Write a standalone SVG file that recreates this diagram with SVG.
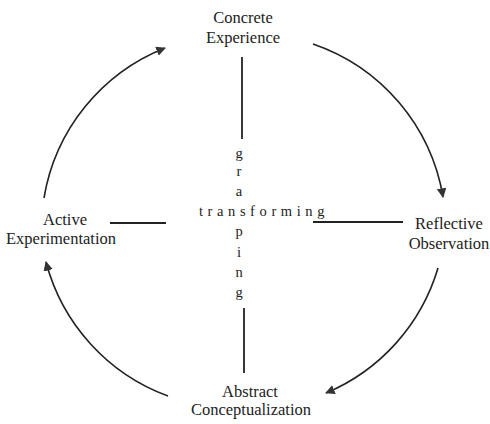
<svg xmlns="http://www.w3.org/2000/svg" width="490" height="424" viewBox="0 0 490 424">
<defs>
<style>
.lbl{font-family:"Liberation Serif","Times New Roman",serif;font-size:16.5px;fill:#222;text-anchor:middle}
.ax{font-family:"Liberation Serif","Times New Roman",serif;font-size:14.5px;fill:#222;text-anchor:middle}
.arc{fill:none;stroke:#222;stroke-width:1.6}
.bar{stroke:#222;stroke-width:1.8}
</style>
<marker id="ah" viewBox="0 0 10 10" refX="9" refY="5" markerWidth="6" markerHeight="6" orient="auto" markerUnits="strokeWidth">
<path d="M0,0 L10,5 L0,10 z" fill="#333"/>
</marker>
</defs>
<rect width="490" height="424" fill="#fff"/>
<g id="connectors">
<path class="arc" d="M313,44 A196,196 0 0 1 443,197" marker-end="url(#ah)"/>
<path class="arc" d="M438,268 A196,196 0 0 1 326,393" marker-end="url(#ah)"/>
<path class="arc" d="M168,396 A196,196 0 0 1 46,262" marker-end="url(#ah)"/>
<path class="arc" d="M44,198 A196,196 0 0 1 165,48" marker-end="url(#ah)"/>
<line class="bar" x1="242" y1="57" x2="242" y2="139"/>
<line class="bar" x1="244" y1="308" x2="244" y2="373"/>
<line class="bar" x1="110" y1="223" x2="166" y2="223"/>
<line class="bar" x1="313" y1="222" x2="403" y2="222"/>
</g>
<g id="concrete-experience">
<text class="lbl" x="243" y="23">Concrete</text>
<text class="lbl" x="243" y="43">Experience</text>
</g>
<g id="reflective-observation">
<text class="lbl" x="449" y="229">Reflective</text>
<text class="lbl" x="449" y="249">Observation</text>
</g>
<g id="abstract-conceptualization">
<text class="lbl" x="250" y="397">Abstract</text>
<text class="lbl" x="251" y="415">Conceptualization</text>
</g>
<g id="active-experimentation">
<text class="lbl" x="65" y="225">Active</text>
<text class="lbl" x="61" y="244">Experimentation</text>
</g>
<g id="axes">
<text class="ax" x="264" y="216" letter-spacing="4.6">transforming</text>
<text class="ax" x="239" y="158">g</text>
<text class="ax" x="239" y="176">r</text>
<text class="ax" x="239" y="196">a</text>
<text class="ax" x="239" y="236">p</text>
<text class="ax" x="239" y="257">i</text>
<text class="ax" x="239" y="277">n</text>
<text class="ax" x="239" y="297">g</text>
</g>
</svg>
